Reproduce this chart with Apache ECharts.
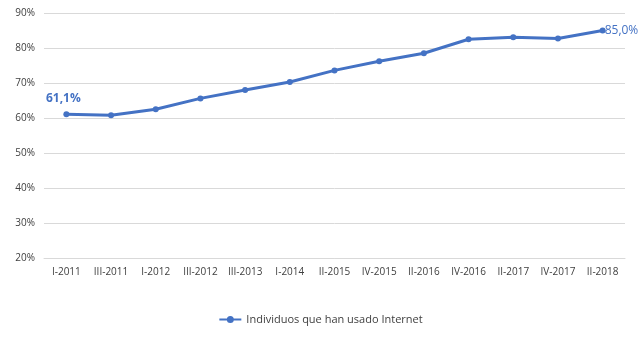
<!DOCTYPE html>
<html>
<head>
<meta charset="utf-8">
<script src="https://cdn.jsdelivr.net/npm/echarts@6/dist/echarts.min.js"></script>
<style>
  html, body { margin: 0; padding: 0; background: #fff; }
  #chart { width: 642px; height: 340px; }
</style>
</head>
<body>
<div id="chart"></div>
<script>
// Periods (quarter-year)
const periods = ['I-2011', 'III-2011', 'I-2012', 'III-2012', 'III-2013', 'I-2014', 'II-2015',
  'IV-2015', 'II-2016', 'IV-2016', 'II-2017', 'IV-2017', 'II-2018'];
// Share of individuals who have used the Internet (%)
const internetUse = [61.1, 60.8, 62.5, 65.6, 68.0, 70.3, 73.6, 76.2, 78.5, 82.5, 83.1, 82.7, 85.0];
const seriesName = 'Individuos que han usado Internet';
// Value axis range (%)
const yMin = 20, yMax = 90, yStep = 10;

const fmt = v => v.toFixed(1).replace('.', ',') + '%';
const lastIdx = internetUse.length - 1;

const data = internetUse.map((v, i) => {
  const item = { value: v };
  if (i === 0) {
    item.label = { show: true, position: 'top', offset: [-3, -2], fontWeight: 'bold', formatter: p => fmt(p.value) };
  } else if (i === lastIdx) {
    item.label = { show: true, position: 'right', offset: [-6, 0], fontWeight: 'normal', formatter: p => fmt(p.value) };
  }
  return item;
});

const chart = echarts.init(document.getElementById('chart'), null, { renderer: 'canvas' });
chart.setOption({
  animation: false,
  textStyle: { fontFamily: 'Open Sans, Liberation Sans, sans-serif' },
  grid: { left: 44, right: 17, top: 13, bottom: 82, containLabel: false },
  legend: {
    bottom: 10,
    left: 'center',
    itemWidth: 22,
    itemHeight: 10,
    itemGap: 10,
    textStyle: { color: '#404040', fontSize: 11, fontFamily: 'Open Sans, sans-serif' },
    data: [{ name: seriesName, icon: 'path://M0,4 L22,4 L22,6 L0,6 Z M11,1.5 A3.5,3.5 0 1 1 11,8.5 A3.5,3.5 0 1 1 11,1.5 Z' }]
  },
  xAxis: {
    type: 'category',
    data: periods,
    boundaryGap: true,
    axisLine: { show: true, lineStyle: { color: '#d9d9d9' } },
    axisTick: { show: false },
    axisLabel: { color: '#404040', fontSize: 10, margin: 9, interval: 0 }
  },
  yAxis: {
    type: 'value',
    min: yMin,
    max: yMax,
    interval: yStep,
    axisLine: { show: false },
    axisTick: { show: false },
    axisLabel: { color: '#404040', fontSize: 10, margin: 9, formatter: '{value}%' },
    splitLine: { lineStyle: { color: '#d9d9d9', width: 1 } }
  },
  series: [{
    name: seriesName,
    type: 'line',
    data: data,
    symbol: 'circle',
    symbolSize: 6,
    itemStyle: { color: '#4472C4' },
    lineStyle: { color: '#4472C4', width: 3 },
    label: { color: '#4472C4', fontSize: 12, fontFamily: 'Open Sans, sans-serif' }
  }]
});
</script>
</body>
</html>
